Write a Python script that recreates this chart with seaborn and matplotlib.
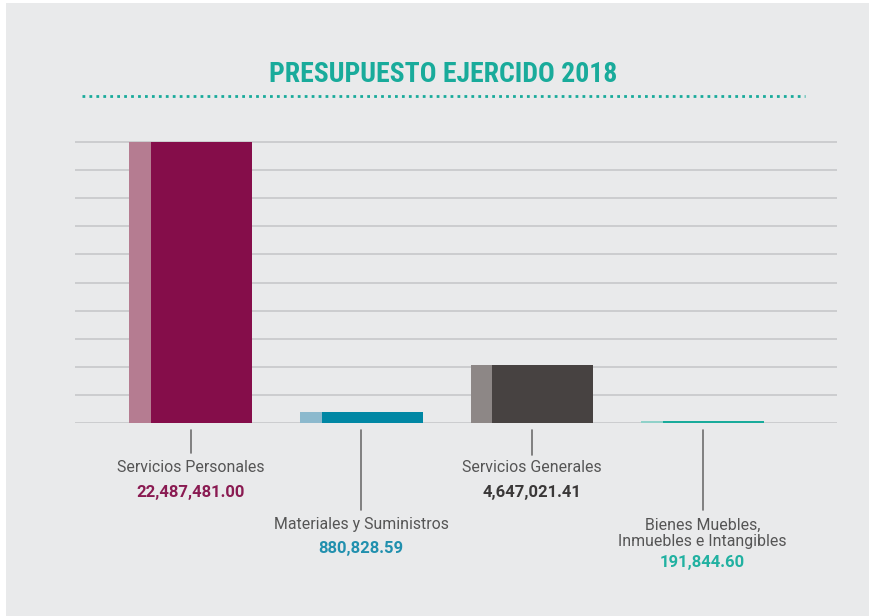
import numpy as np
import pandas as pd
import matplotlib
matplotlib.use("Agg")
import matplotlib.pyplot as plt
import matplotlib.transforms as mtransforms
from matplotlib.patches import Rectangle
import seaborn as sns

# Data
categories = ["Servicios Personales", "Materiales y Suministros",
              "Servicios Generales", "Bienes Muebles,\nInmuebles e Intangibles"]
amounts = [22487481.00, 880828.59, 4647021.41, 191844.60]
amount_labels = ["22,487,481.00", "880,828.59", "4,647,021.41", "191,844.60"]

dark_colors = ["#850d4a", "#0087a4", "#474241", "#19ab9b"]
light_colors = ["#b57c91", "#8cb9cd", "#8d8786", "#90d1c9"]
value_colors = ["#8a1b52", "#2190ae", "#3a3838", "#21b1a1"]

BG = "#e9eaeb"
TEAL = "#19ab9b"

sns.set_theme(style="white")
plt.rcParams["font.family"] = ["Roboto", "DejaVu Sans"]

W, H = 870, 616
fig = plt.figure(figsize=(W / 100, H / 100), dpi=100, facecolor="white")
fig.patches.append(Rectangle((6 / W, 0), 1 - 6 / W, 1 - 3 / H, transform=fig.transFigure,
                             facecolor=BG, edgecolor="none", zorder=-5))

# axes: gridlines span x 75..837, baseline at y=423, top bar at y=142
top_px = 423 - 281 * 1.05
ax = fig.add_axes([75 / W, (H - 423) / H, (837 - 75) / W, (423 - top_px) / H])
ax.set_facecolor("none")
ax.set_zorder(2)

df = pd.DataFrame({"cat": categories, "amount": amounts})
bar_w = 0.72
dark_frac = 101 / 123

# light full bar, then darker overlay
sns.barplot(data=df, x="cat", y="amount", hue="cat", palette=light_colors,
            width=bar_w, legend=False, ax=ax, zorder=3, saturation=1)
n_light = len(ax.patches)
sns.barplot(data=df, x="cat", y="amount", hue="cat", palette=dark_colors,
            width=bar_w, legend=False, ax=ax, zorder=4, saturation=1)
for p in ax.patches[n_light:]:
    x0, w = p.get_x(), p.get_width()
    p.set_x(x0 + w * (1 - dark_frac))
    p.set_width(w * dark_frac)
for p in ax.patches:
    p.set_edgecolor("none")

ax.set_xlim(-0.677, 3.787)
ax.set_ylim(0, amounts[0] * 1.05)
for yv in np.linspace(0, amounts[0], 11):
    ax.axhline(yv, color="#c7c8ca", lw=1.2, zorder=1)

for s in ax.spines.values():
    s.set_visible(False)
ax.set_xticks([])
ax.set_yticks([])
ax.set_xlabel("")
ax.set_ylabel("")

# leader lines and labels
trans = mtransforms.blended_transform_factory(ax.transData, fig.transFigure)
line_end = [453, 510, 455, 510]
label_y = [467, 524, 468, 518]
value_y = [492, 549, 492, 563]
for i, cat in enumerate(categories):
    multi = "\n" in cat
    ax.plot([i, i], [(H - 430) / H, (H - line_end[i]) / H], transform=trans,
            color="#6e6e6e", lw=1.2, clip_on=False)
    ax.text(i, (H - label_y[i]) / H, cat, transform=trans, ha="center",
            va="top" if multi else "center", fontsize=11.4,
            color="#555555", linespacing=1.1)
    ax.text(i, (H - value_y[i]) / H, amount_labels[i], transform=trans,
            ha="center", va="center", fontsize=12, fontweight="bold",
            color=value_colors[i])

fig.text(443 / W, (H - 74) / H, "PRESUPUESTO EJERCIDO 2018", ha="center", va="center",
         fontsize=20, fontweight="bold", color=TEAL,
         family=["Liberation Sans Narrow", "Roboto Condensed", "Roboto"])
fig.add_artist(plt.Line2D([82 / W, 805 / W], [(H - 96) / H] * 2, transform=fig.transFigure,
                          color=TEAL, lw=2, linestyle=(0, (1, 1.5))))

fig.savefig("out.png", dpi=100, facecolor=fig.get_facecolor())
